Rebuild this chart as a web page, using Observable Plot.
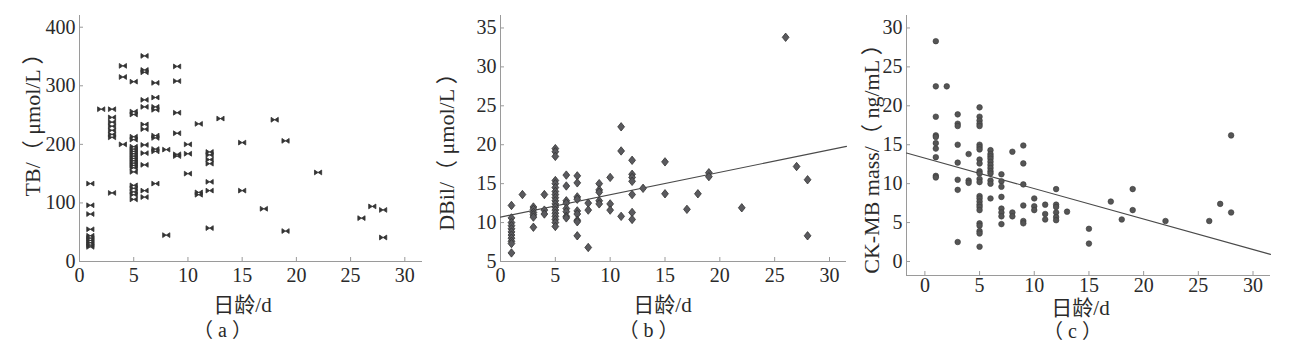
<!DOCTYPE html>
<html>
<head>
<meta charset="utf-8">
<script src="https://cdn.jsdelivr.net/npm/d3@7"></script>
<script src="https://cdn.jsdelivr.net/npm/@observablehq/plot@0.6"></script>
<style>
  html, body { margin: 0; padding: 0; background: #fff; }
  #wrap { position: relative; width: 1289px; height: 346px; overflow: hidden; background: #fff; }
  .panel { position: absolute; top: 0; }
</style>
</head>
<body>
<div id="wrap"></div>
<script>
// ---------- DATA ----------
const xTicks = [0, 5, 10, 15, 20, 25, 30];

// (a) TB by day of age
const tbTicks = [0, 100, 200, 300, 400];
const tbGroups = [
  [1, [133, 96, 81, 55, 44, 40, 36, 32, 28, 25]],
  [2, [260]],
  [3, [260, 246, 238, 231, 224, 217, 212, 117]],
  [4, [334, 315, 200]],
  [5, [307, 256, 251, 213, 208, 196, 192, 188, 184, 180, 176, 172, 168, 164, 160, 153, 130, 125, 119, 114, 106]],
  [6, [351, 327, 323, 276, 264, 234, 226, 199, 185, 165, 121, 110]],
  [7, [305, 280, 264, 259, 215, 211, 192, 188, 133]],
  [8, [191, 45]],
  [9, [333, 308, 254, 219, 183, 180]],
  [10, [200, 184, 150]],
  [11, [235, 118, 114]],
  [12, [187, 182, 174, 167, 136, 121, 57]],
  [13, [244]],
  [15, [203, 121]],
  [17, [90]],
  [18, [242]],
  [19, [206, 52]],
  [22, [152]],
  [26, [74]],
  [27, [94]],
  [28, [88, 41]]
];

// (b) DBil by day of age
const dbilTicks = [5, 10, 15, 20, 25, 30, 35];
const dbilGroups = [
  [1, [12.2, 10.6, 10.0, 9.6, 9.2, 8.8, 8.4, 8.0, 7.6, 7.3, 6.1]],
  [2, [13.6]],
  [3, [12.0, 11.7, 11.3, 11.0, 10.7, 9.4]],
  [4, [13.6, 11.6, 11.1]],
  [5, [19.5, 19.1, 18.5, 15.4, 15.0, 14.5, 14.0, 13.6, 13.2, 12.8, 12.4, 12.0, 11.6, 11.2, 10.8, 10.4, 10.0, 9.5]],
  [6, [16.1, 14.7, 12.8, 12.5, 11.8, 11.4, 10.8, 10.6]],
  [7, [16.0, 15.1, 13.3, 13.0, 11.5, 11.1, 10.3, 10.1, 8.3]],
  [8, [12.5, 11.6, 6.8]],
  [9, [15.0, 14.2, 13.9, 12.8, 12.4]],
  [10, [15.8, 12.4, 11.6]],
  [11, [22.3, 19.2, 10.8]],
  [12, [18.0, 16.2, 15.8, 15.3, 13.6, 11.3, 10.4]],
  [13, [14.4]],
  [15, [17.8, 13.7]],
  [17, [11.7]],
  [18, [13.7]],
  [19, [16.4, 15.9]],
  [22, [11.9]],
  [26, [33.8]],
  [27, [17.2]],
  [28, [15.5, 8.3]]
];
const dbilFit = {intercept: 10.7, slope: 0.288};

// (c) CK-MB mass by day of age
const ckTicks = [0, 5, 10, 15, 20, 25, 30];
const ckGroups = [
  [1, [28.3, 22.5, 18.6, 16.2, 16.0, 15.2, 14.5, 13.4, 11.0, 10.8]],
  [2, [22.5]],
  [3, [18.9, 17.7, 17.4, 15.0, 12.7, 10.5, 9.2, 2.5]],
  [4, [13.8, 10.4, 10.1]],
  [5, [19.8, 18.6, 18.1, 17.7, 17.4, 15.0, 14.7, 14.4, 13.1, 12.6, 11.6, 11.3, 10.6, 10.2, 8.4, 8.1, 7.7, 7.3, 7.0, 6.6, 4.9, 4.6, 3.9, 3.6, 1.9]],
  [6, [14.3, 13.8, 13.5, 13.2, 12.8, 12.4, 12.0, 11.6, 11.3, 10.4, 10.0, 8.1]],
  [7, [11.2, 10.3, 9.6, 8.3, 6.8, 6.3, 5.8, 4.8]],
  [8, [14.1, 6.3, 5.8]],
  [9, [14.9, 12.6, 9.9, 7.2, 5.2, 4.9]],
  [10, [8.1, 7.1, 6.6]],
  [11, [7.3, 6.1, 5.4]],
  [12, [9.3, 7.3, 7.0, 6.3, 5.7, 5.3]],
  [13, [6.4]],
  [15, [4.2, 2.3]],
  [17, [7.7]],
  [18, [5.4]],
  [19, [9.3, 6.6]],
  [22, [5.2]],
  [26, [5.2]],
  [27, [7.4]],
  [28, [16.2, 6.3]]
];
const ckFit = {intercept: 13.27, slope: -0.391};

const xLabel = "日龄/d";
const yLabels = ["TB/（ μmol/L ）", "DBil/（ μmol/L ）", "CK-MB mass/（ ng/mL ）"];
const captions = ["（ a ）", "（ b ）", "（ c ）"];

// ---------- RENDER ----------
const flat = groups => groups.flatMap(([d, vals]) => vals.map(v => ({day: d, value: v})));

const bowtie = {
  draw(ctx) {
    const w = 3.6, h = 2.4;
    ctx.moveTo(-w, -h); ctx.lineTo(-w, h); ctx.lineTo(w, -h); ctx.lineTo(w, h); ctx.closePath();
  }
};
const diamond = {
  draw(ctx) {
    const w = 3.4, h = 4.2;
    ctx.moveTo(0, -h); ctx.lineTo(w, 0); ctx.lineTo(0, h); ctx.lineTo(-w, 0); ctx.closePath();
  }
};

const FONT = "Liberation Serif, Noto Sans CJK SC, serif";
const TICK_FS = 20;
const LABEL_FS = 22;

function panel(cfg) {
  const data = flat(cfg.groups);
  const marks = [
    Plot.ruleX([cfg.xDomain[0]], {stroke: "#9a9a9a", strokeWidth: 1}),
    Plot.ruleY([cfg.yDomain[0]], {stroke: "#9a9a9a", strokeWidth: 1}),
    Plot.axisX({ticks: xTicks, tickSize: -4, tickPadding: cfg.xpad, stroke: "#9a9a9a", fill: "#2a2a2a",
      label: null, tickFormat: d => d, fontSize: TICK_FS, fontFamily: FONT}),
    Plot.axisY({ticks: cfg.yTicks, tickSize: -4, tickPadding: 8, stroke: "#9a9a9a", fill: "#2a2a2a",
      label: null, tickFormat: d => d, fontSize: TICK_FS, fontFamily: FONT})
  ];
  if (cfg.fit) {
    const f = cfg.fit;
    marks.push(Plot.line(cfg.xDomain.map(x => ({x, y: f.intercept + f.slope * x})),
      {x: "x", y: "y", stroke: "#4a4a4a", strokeWidth: 1.1}));
  }
  marks.push(Plot.dot(data, {x: "day", y: "value", symbol: cfg.symbol, r: cfg.r,
    fill: cfg.fill, stroke: cfg.stroke, strokeWidth: cfg.sw, fillOpacity: 1}));
  const common = {frameAnchor: "top-left", text: d => d, textAnchor: "middle", lineAnchor: "middle",
    fill: "#2a2a2a", fontFamily: FONT};
  marks.push(Plot.text([cfg.yLabel], {...common, rotate: -90,
    dx: cfg.yl[0] - cfg.ml, dy: cfg.yl[1] - cfg.mt, fontSize: LABEL_FS}));
  marks.push(Plot.text([xLabel], {...common,
    dx: cfg.xl[0] - cfg.ml, dy: cfg.xl[1] - cfg.mt, fontSize: 21}));
  marks.push(Plot.text([cfg.caption], {...common,
    dx: cfg.cap[0] - cfg.ml, dy: cfg.cap[1] - cfg.mt, fontSize: 20}));

  const svg = Plot.plot({
    width: cfg.width, height: 346,
    marginLeft: cfg.ml, marginRight: cfg.mr, marginTop: cfg.mt, marginBottom: cfg.mb,
    x: {domain: cfg.xDomain},
    y: {domain: cfg.yDomain},
    style: {fontFamily: FONT, fontSize: TICK_FS + "px", color: "#2a2a2a", background: "transparent", overflow: "visible"},
    marks
  });
  svg.classList.add("panel");
  svg.style.left = cfg.left + "px";
  document.getElementById("wrap").appendChild(svg);
}

panel({
  left: 0, width: 430, ml: 79, mr: 8, mt: 15, mb: 85, xpad: 10,
  xDomain: [0, 31.63], yDomain: [0, 420], yTicks: tbTicks, groups: tbGroups,
  symbol: bowtie, r: 3, fill: "#333", stroke: "#333", sw: 0.8,
  yLabel: yLabels[0], yl: [32, 119], xl: [242, 305], caption: captions[0], cap: [222, 330]
});
panel({
  left: 430, width: 430, ml: 70, mr: 14, mt: 15, mb: 85, xpad: 10,
  xDomain: [0, 31.55], yDomain: [5, 36.6], yTicks: dbilTicks, groups: dbilGroups, fit: dbilFit,
  symbol: diamond, r: 3, fill: "#5a5a5e", stroke: "#333", sw: 0.8,
  yLabel: yLabels[1], yl: [16, 146], xl: [232, 305], caption: captions[1], cap: [218, 330]
});
panel({
  left: 860, width: 429, ml: 46, mr: 19, mt: 15, mb: 71, xpad: 6,
  xDomain: [-1.68, 31.6], yDomain: [-1.8, 31.6], yTicks: ckTicks, groups: ckGroups, fit: ckFit,
  symbol: "circle", r: 2.8, fill: "#555", stroke: "#3a3a3a", sw: 0.6,
  yLabel: yLabels[2], yl: [11, 153], xl: [220, 308], caption: captions[2], cap: [212, 331]
});
</script>
</body>
</html>
